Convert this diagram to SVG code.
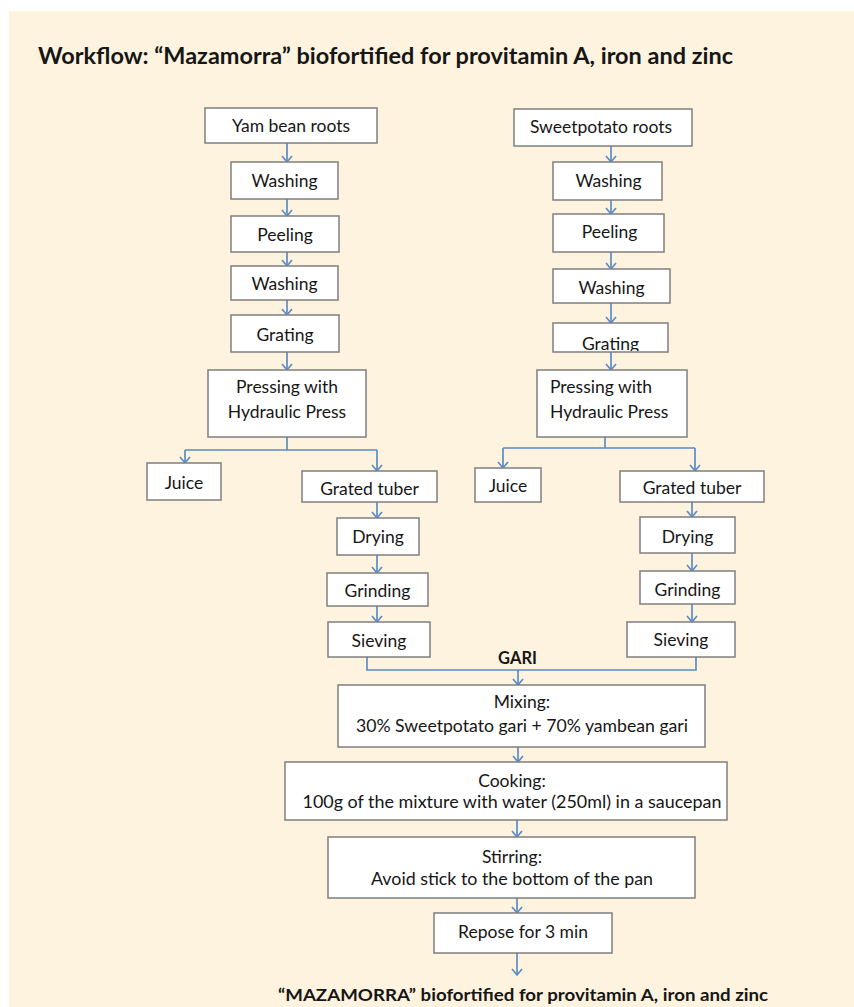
<svg xmlns="http://www.w3.org/2000/svg" width="854" height="1007" viewBox="0 0 854 1007">
<style>
.bx{fill:#ffffff;stroke:#7f7f7f;stroke-width:1.5}
.t{font-family:Lato,"Liberation Sans",sans-serif;font-size:17.5px;fill:#161616;text-anchor:middle}
.tl{text-anchor:start}
.b{font-weight:bold}
.c{fill:none;stroke:#5b8cc8;stroke-width:1.7}
.a{marker-end:url(#ah)}
</style>
<defs>
<marker id="ah" markerUnits="userSpaceOnUse" viewBox="-2 -7 10 14" refX="6" refY="0" markerWidth="10" markerHeight="14" orient="auto" overflow="visible">
<path d="M0,-5 L6,0 L0,5" fill="none" stroke="#5b8cc8" stroke-width="1.7"/>
</marker>
<clipPath id="cg"><rect x="553" y="323" width="115" height="28"/></clipPath>
</defs>
<rect x="0" y="0" width="854" height="1007" fill="#ffffff"/>
<rect x="9" y="11" width="845" height="996" fill="#fef3de"/>
<text id="title" x="38" y="64" class="t tl b" style="font-size:22px" textLength="695" lengthAdjust="spacingAndGlyphs">Workflow:  “Mazamorra” biofortified for provitamin A, iron and zinc</text>

<g id="connectors">
<path class="c a" d="M287,143 V162"/>
<path class="c a" d="M287,199 V216"/>
<path class="c a" d="M287,252 V266"/>
<path class="c a" d="M287,300 V315"/>
<path class="c a" d="M287,352 V370"/>
<path class="c" d="M287,437 V450 M185,450 H377"/>
<path class="c a" d="M185,450 V463"/>
<path class="c a" d="M377,450 V471"/>
<path class="c a" d="M377,502 V518"/>
<path class="c a" d="M377,555 V573"/>
<path class="c a" d="M377,606 V622"/>
<path class="c a" d="M611,146 V162"/>
<path class="c a" d="M611,200 V214"/>
<path class="c a" d="M611,252 V269"/>
<path class="c a" d="M611,303 V323"/>
<path class="c a" d="M611,352 V370"/>
<path class="c" d="M605,437 V448 M503,448 H695"/>
<path class="c a" d="M503,448 V468"/>
<path class="c a" d="M695,448 V471"/>
<path class="c a" d="M692,502 V517"/>
<path class="c a" d="M692,553 V571"/>
<path class="c a" d="M692,604 V622"/>
<path class="c" d="M367,657 V670 H696 V657"/>
<path class="c a" d="M518,670 V685"/>
<path class="c a" d="M518,747 V762"/>
<path class="c a" d="M517,820 V837"/>
<path class="c a" d="M517,898 V913"/>
<path class="c a" d="M517,953 V975"/>
</g>

<g id="yam-roots"><rect class="bx" x="205" y="108" width="172" height="35"/><text class="t" x="291" y="132">Yam bean roots</text></g>
<g id="yam-washing1"><rect class="bx" x="231" y="162" width="107" height="37"/><text class="t" x="284.5" y="187">Washing</text></g>
<g id="yam-peeling"><rect class="bx" x="231" y="216" width="108" height="36"/><text class="t" x="285" y="241">Peeling</text></g>
<g id="yam-washing2"><rect class="bx" x="231" y="266" width="107" height="34"/><text class="t" x="284.5" y="290">Washing</text></g>
<g id="yam-grating"><rect class="bx" x="231" y="315" width="108" height="37"/><text class="t" x="285" y="341">Grating</text></g>
<g id="yam-pressing"><rect class="bx" x="208" y="370" width="158" height="67"/><text class="t" x="287" y="393">Pressing with</text><text class="t" x="287" y="418">Hydraulic Press</text></g>
<g id="yam-juice"><rect class="bx" x="147" y="463" width="74" height="37"/><text class="t" x="184" y="489">Juice</text></g>
<g id="yam-grated"><rect class="bx" x="302" y="471" width="135" height="31"/><text class="t" x="369.5" y="495">Grated tuber</text></g>
<g id="yam-drying"><rect class="bx" x="337" y="518" width="82" height="37"/><text class="t" x="378" y="543">Drying</text></g>
<g id="yam-grinding"><rect class="bx" x="327" y="573" width="101" height="33"/><text class="t" x="377.5" y="597">Grinding</text></g>
<g id="yam-sieving"><rect class="bx" x="328" y="622" width="102" height="35"/><text class="t" x="379" y="647">Sieving</text></g>

<g id="sp-roots"><rect class="bx" x="514" y="109" width="178" height="37"/><text class="t" x="601" y="133">Sweetpotato roots</text></g>
<g id="sp-washing1"><rect class="bx" x="553" y="162" width="109" height="38"/><text class="t" x="608.5" y="187">Washing</text></g>
<g id="sp-peeling"><rect class="bx" x="553" y="214" width="111" height="38"/><text class="t" x="609.5" y="238">Peeling</text></g>
<g id="sp-washing2"><rect class="bx" x="553" y="269" width="117" height="34"/><text class="t" x="611.5" y="294">Washing</text></g>
<g id="sp-grating"><rect class="bx" x="553" y="323" width="115" height="29"/><text class="t" x="610.5" y="350" clip-path="url(#cg)">Grating</text></g>
<g id="sp-pressing"><rect class="bx" x="537" y="370" width="150" height="67"/><text class="t tl" x="550" y="393">Pressing with</text><text class="t tl" x="550" y="418">Hydraulic Press</text></g>
<g id="sp-juice"><rect class="bx" x="475" y="468" width="66" height="34"/><text class="t" x="508" y="492">Juice</text></g>
<g id="sp-grated"><rect class="bx" x="620" y="471" width="144" height="31"/><text class="t" x="692" y="494">Grated tuber</text></g>
<g id="sp-drying"><rect class="bx" x="640" y="517" width="95" height="36"/><text class="t" x="687.5" y="543">Drying</text></g>
<g id="sp-grinding"><rect class="bx" x="640" y="571" width="95" height="33"/><text class="t" x="687.5" y="596">Grinding</text></g>
<g id="sp-sieving"><rect class="bx" x="627" y="622" width="108" height="35"/><text class="t" x="681" y="646">Sieving</text></g>

<g id="gari"><text class="t b" x="517.5" y="664" style="font-size:16.5px">GARI</text></g>
<g id="mixing"><rect class="bx" x="338" y="685" width="367" height="62"/><text class="t" x="522" y="708">Mixing:</text><text class="t" x="522" y="732" textLength="332" lengthAdjust="spacingAndGlyphs">30% Sweetpotato gari + 70% yambean gari</text></g>
<g id="cooking"><rect class="bx" x="285" y="762" width="442" height="58"/><text class="t" x="512" y="787">Cooking:</text><text class="t" x="512" y="808" textLength="419" lengthAdjust="spacingAndGlyphs">100g of the mixture with water (250ml) in a saucepan</text></g>
<g id="stirring"><rect class="bx" x="328" y="837" width="367" height="61"/><text class="t" x="512" y="863">Stirring:</text><text class="t" x="512" y="885" textLength="282" lengthAdjust="spacingAndGlyphs">Avoid stick to the bottom of the pan</text></g>
<g id="repose"><rect class="bx" x="434" y="913" width="178" height="40"/><text class="t" x="523" y="938">Repose for 3 min</text></g>
<g id="result"><text class="t tl b" x="278" y="1001" textLength="490" lengthAdjust="spacingAndGlyphs">“MAZAMORRA” biofortified for provitamin A, iron and zinc</text></g>
</svg>
